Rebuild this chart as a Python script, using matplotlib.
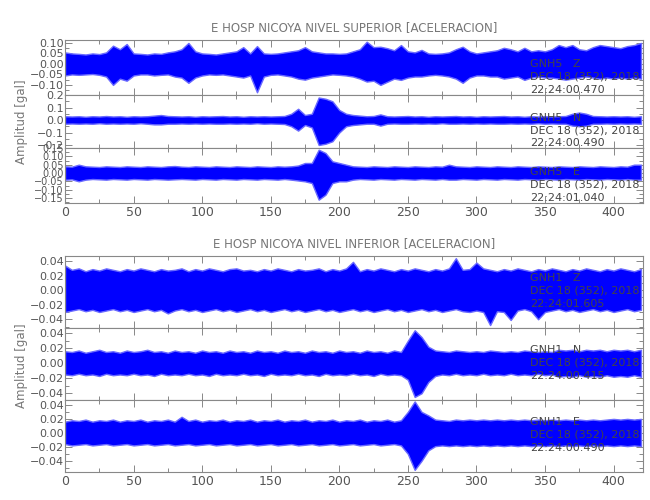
import numpy as np
import matplotlib
matplotlib.use("Agg")
import matplotlib.pyplot as plt
from matplotlib.ticker import MultipleLocator

# ---- data (envelopes every 5 s) ----
t = list(range(0, 425, 5))  # 0 .. 420 s

# upper group: GNH5 (Nivel superior)
gnh5_z_up = [.055, .050, .048, .045, .050, .047, .055, .087, .070, .095, .050, .048, .045, .050, .048, .055, .060, .070, .100, .060,
             .050, .048, .045, .050, .055, .060, .080, .050, .085, .050, .048, .050, .055, .060, .065, .080, .060, .055, .050, .050,
             .048, .050, .060, .070, .106, .080, .082, .075, .065, .090, .060, .055, .067, .050, .048, .050, .055, .070, .082, .060,
             .050, .055, .060, .065, .077, .070, .060, .077, .060, .065, .060, .070, .090, .080, .090, .070, .065, .080, .090, .085,
             .080, .075, .085, .090, .100]
gnh5_z_lo = [-.055, -.050, -.052, -.050, -.048, -.052, -.060, -.100, -.070, -.080, -.055, -.050, -.050, -.055, -.052, -.050, -.060, -.065, -.090, -.065,
             -.055, -.050, -.052, -.050, -.055, -.060, -.065, -.055, -.135, -.060, -.052, -.050, -.055, -.060, -.070, -.075, -.065, -.060, -.055, -.050,
             -.052, -.055, -.060, -.070, -.084, -.080, -.100, -.085, -.070, -.076, -.065, -.060, -.060, -.055, -.052, -.055, -.060, -.070, -.090, -.065,
             -.055, -.055, -.060, -.060, -.070, -.065, -.060, -.076, -.065, -.060, -.065, -.065, -.070, -.075, -.070, -.065, -.060, -.065, -.070, -.065,
             -.070, -.065, -.070, -.065, -.070]

gnh5_n_up = [.030, .028, .030, .026, .030, .028, .032, .028, .030, .026, .030, .028, .030, .035, .040, .032, .030, .028, .030, .026,
             .030, .028, .030, .032, .028, .030, .026, .030, .028, .030, .028, .030, .032, .050, .090, .040, .050, .180, .170, .150,
             .080, .050, .040, .035, .030, .032, .045, .030, .028, .030, .032, .028, .030, .026, .030, .028, .030, .032, .028, .030,
             .026, .030, .028, .030, .032, .028, .030, .026, .030, .028, .030, .028, .030, .032, .050, .060, .050, .032, .030, .028,
             .030, .028, .030, .026, .030]
gnh5_n_lo = [-.030, -.028, -.030, -.028, -.030, -.026, -.030, -.028, -.030, -.028, -.030, -.026, -.030, -.035, -.035, -.030, -.030, -.028, -.030, -.028,
             -.030, -.028, -.030, -.030, -.028, -.030, -.028, -.030, -.026, -.030, -.028, -.030, -.032, -.050, -.085, -.040, -.060, -.200, -.190, -.170,
             -.100, -.050, -.040, -.035, -.030, -.030, -.045, -.030, -.028, -.030, -.030, -.028, -.030, -.028, -.030, -.026, -.030, -.030, -.028, -.030,
             -.028, -.030, -.028, -.030, -.030, -.028, -.030, -.028, -.030, -.026, -.030, -.028, -.030, -.030, -.045, -.050, -.045, -.030, -.030, -.028,
             -.030, -.028, -.030, -.028, -.030]

gnh5_e_up = [.040, .038, .050, .040, .038, .036, .040, .038, .036, .040, .038, .036, .040, .038, .036, .040, .042, .038, .036, .040,
             .038, .036, .040, .038, .036, .040, .038, .036, .040, .038, .036, .040, .038, .040, .045, .060, .060, .140, .120, .070,
             .060, .050, .040, .038, .036, .040, .038, .036, .040, .038, .036, .040, .038, .036, .040, .038, .050, .040, .038, .036,
             .040, .038, .036, .040, .038, .036, .040, .038, .036, .040, .038, .036, .040, .038, .036, .040, .038, .036, .040, .038,
             .036, .040, .038, .050, .050]
gnh5_e_lo = [-.040, -.038, -.050, -.040, -.036, -.038, -.040, -.036, -.038, -.040, -.036, -.038, -.040, -.036, -.038, -.040, -.038, -.036, -.038, -.040,
             -.036, -.038, -.040, -.036, -.038, -.040, -.036, -.038, -.040, -.036, -.038, -.040, -.036, -.040, -.045, -.050, -.060, -.160, -.130, -.060,
             -.050, -.050, -.040, -.036, -.038, -.040, -.036, -.038, -.040, -.036, -.038, -.040, -.036, -.038, -.040, -.036, -.040, -.040, -.036, -.038,
             -.040, -.036, -.038, -.040, -.036, -.038, -.040, -.036, -.038, -.040, -.036, -.038, -.040, -.036, -.038, -.040, -.036, -.038, -.040, -.036,
             -.038, -.040, -.036, -.040, -.040]

# lower group: GNH1 (Nivel inferior)
gnh1_z_up = [.034, .028, .030, .026, .029, .027, .030, .028, .026, .029, .027, .030, .028, .026, .029, .027, .028, .030, .026, .029,
             .027, .030, .028, .026, .029, .030, .027, .028, .026, .029, .027, .030, .028, .026, .029, .027, .028, .030, .026, .029,
             .027, .030, .039, .026, .029, .027, .030, .028, .026, .029, .027, .030, .028, .026, .029, .027, .030, .044, .028, .029,
             .038, .030, .028, .026, .029, .027, .030, .028, .026, .029, .027, .030, .028, .026, .029, .027, .030, .028, .026, .029,
             .027, .030, .028, .026, .029]
gnh1_z_lo = [-.030, -.028, -.026, -.029, -.027, -.030, -.028, -.026, -.029, -.027, -.030, -.028, -.026, -.029, -.027, -.032, -.028, -.026, -.029, -.027,
             -.030, -.028, -.026, -.029, -.027, -.030, -.028, -.026, -.029, -.027, -.030, -.028, -.026, -.029, -.027, -.030, -.028, -.026, -.029, -.027,
             -.030, -.028, -.026, -.029, -.027, -.030, -.028, -.026, -.029, -.027, -.030, -.028, -.026, -.029, -.027, -.030, -.028, -.026, -.029, -.030,
             -.028, -.030, -.048, -.029, -.030, -.041, -.028, -.026, -.029, -.040, -.030, -.028, -.026, -.029, -.027, -.030, -.028, -.026, -.029, -.027,
             -.030, -.028, -.026, -.029, -.027]

gnh1_n_up = [.016, .015, .017, .014, .016, .018, .015, .016, .014, .017, .015, .016, .018, .015, .016, .014, .017, .015, .016, .014,
             .017, .015, .016, .014, .017, .015, .016, .014, .017, .015, .016, .014, .017, .015, .016, .014, .017, .015, .016, .014,
             .017, .015, .016, .014, .017, .015, .016, .014, .017, .015, .030, .044, .035, .022, .017, .016, .015, .017, .016, .015,
             .016, .015, .017, .016, .015, .016, .015, .017, .016, .015, .016, .015, .018, .017, .018, .016, .018, .017, .018, .016,
             .018, .017, .018, .016, .018]
gnh1_n_lo = [-.015, -.016, -.014, -.016, -.015, -.017, -.014, -.016, -.015, -.016, -.014, -.016, -.015, -.017, -.014, -.016, -.015, -.016, -.014, -.016,
             -.015, -.017, -.014, -.016, -.015, -.016, -.014, -.016, -.015, -.017, -.014, -.016, -.015, -.016, -.014, -.016, -.015, -.017, -.014, -.016,
             -.015, -.016, -.014, -.016, -.015, -.017, -.014, -.016, -.015, -.016, -.022, -.045, -.040, -.025, -.017, -.015, -.016, -.014, -.016, -.015,
             -.016, -.014, -.016, -.015, -.016, -.014, -.016, -.015, -.016, -.014, -.016, -.015, -.018, -.017, -.018, -.016, -.018, -.017, -.018, -.016,
             -.018, -.017, -.018, -.016, -.018]

gnh1_e_up = [.016, .018, .017, .019, .016, .018, .017, .019, .016, .018, .017, .019, .016, .018, .017, .019, .016, .023, .017, .019,
             .016, .018, .017, .019, .016, .018, .017, .019, .016, .018, .017, .019, .016, .018, .017, .019, .016, .018, .017, .019,
             .016, .018, .017, .019, .016, .018, .017, .019, .016, .018, .030, .045, .030, .025, .019, .018, .017, .019, .018, .019,
             .018, .019, .018, .019, .018, .019, .018, .019, .018, .019, .018, .019, .018, .019, .018, .019, .018, .019, .018, .019,
             .020, .019, .020, .019, .020]
gnh1_e_lo = [-.016, -.018, -.017, -.016, -.018, -.017, -.016, -.018, -.017, -.016, -.018, -.017, -.016, -.018, -.017, -.016, -.018, -.017, -.016, -.018,
             -.017, -.016, -.018, -.017, -.016, -.018, -.017, -.016, -.018, -.017, -.016, -.018, -.017, -.016, -.018, -.017, -.016, -.018, -.017, -.016,
             -.018, -.017, -.016, -.018, -.017, -.016, -.018, -.017, -.016, -.018, -.030, -.053, -.040, -.025, -.019, -.018, -.019, -.018, -.019, -.018,
             -.019, -.018, -.019, -.018, -.019, -.018, -.019, -.018, -.019, -.018, -.019, -.018, -.019, -.018, -.019, -.018, -.019, -.018, -.019, -.018,
             -.019, -.018, -.019, -.018, -.019]

station_labels = ["GNH5   Z", "GNH5   N", "GNH5   E", "GNH1   Z", "GNH1   N", "GNH1   E"]
date_label = "DEC 18 (352), 2018"
start_times = ["22:24:00.470", "22:24:00.490", "22:24:01.040", "22:24:01.605", "22:24:00.415", "22:24:00.490"]
titles = ["E HOSP NICOYA NIVEL SUPERIOR [ACELERACION]", "E HOSP NICOYA NIVEL INFERIOR [ACELERACION]"]
ylabel = "Amplitud [gal]"
x_ticks = [0, 50, 100, 150, 200, 250, 300, 350, 400]

traces = [(gnh5_z_up, gnh5_z_lo), (gnh5_n_up, gnh5_n_lo), (gnh5_e_up, gnh5_e_lo),
          (gnh1_z_up, gnh1_z_lo), (gnh1_n_up, gnh1_n_lo), (gnh1_e_up, gnh1_e_lo)]
ylims = [(-0.148, 0.114), (-0.224, 0.20), (-0.18, 0.15),
         (-0.052, 0.047), (-0.049, 0.047), (-0.056, 0.047)]
yticks = [[-0.10, -0.05, 0.0, 0.05, 0.10], [-0.2, -0.1, 0.0, 0.1, 0.2],
          [-0.15, -0.10, -0.05, 0.0, 0.05, 0.10, 0.15],
          [-0.04, -0.02, 0.0, 0.02, 0.04], [-0.04, -0.02, 0.0, 0.02, 0.04], [-0.04, -0.02, 0.0, 0.02, 0.04]]
yfmt = ["{:.2f}", "{:.1f}", "{:.2f}", "{:.2f}", "{:.2f}", "{:.2f}"]
ysize = [8, 8, 7, 8, 8, 8]

# ---- layout (pixel boxes in a 650x500 figure) ----
W, H = 650, 500
x0, x1 = 65, 643
boxes = [(40, 95), (95, 148), (148, 203), (256, 328), (328, 400), (400, 472)]

fig = plt.figure(figsize=(6.5, 5.0), dpi=100)
fig.patch.set_facecolor("white")
txt_col = "#555555"
spine_col = "#888888"

for i, (ytop, ybot) in enumerate(boxes):
    ax = fig.add_axes([x0 / W, 1 - ybot / H, (x1 - x0) / W, (ybot - ytop) / H])
    up, lo = traces[i]
    ax.fill_between(t, lo, up, facecolor="#0000ff", edgecolor="#6a6aff", linewidth=1.0, zorder=2)
    ax.set_xlim(0, 421.5)
    ax.set_ylim(*ylims[i])
    ax.set_yticks(yticks[i])
    ax.set_yticklabels([yfmt[i].format(v).replace("-", "\u2212") for v in yticks[i]])
    step = yticks[i][1] - yticks[i][0]
    ax.yaxis.set_minor_locator(MultipleLocator(step / 2))
    ax.set_xticks(x_ticks)
    ax.xaxis.set_minor_locator(MultipleLocator(25))
    ax.tick_params(axis="both", which="both", direction="in", top=True, right=True,
                   colors=spine_col, labelcolor=txt_col, width=0.7)
    ax.tick_params(axis="y", labelsize=ysize[i], pad=1)
    ax.tick_params(axis="both", which="major", length=5)
    ax.tick_params(axis="both", which="minor", length=3)
    for s in ax.spines.values():
        s.set_color(spine_col)
        s.set_linewidth(0.8)
    if i in (2, 5):
        ax.tick_params(axis="x", labelbottom=True, labelsize=9, pad=2)
    else:
        ax.tick_params(axis="x", labelbottom=False)
    # station annotation
    ax.text(0.8045, 0.57 if i < 3 else 0.70, station_labels[i], transform=ax.transAxes,
            fontsize=8, color="#444444", va="center", ha="left", zorder=5)
    ax.text(0.8045, 0.33 if i < 3 else 0.52, date_label, transform=ax.transAxes,
            fontsize=8, color="#444444", va="center", ha="left", zorder=5)
    ax.text(0.8045, 0.09 if i < 3 else 0.34, start_times[i], transform=ax.transAxes,
            fontsize=8, color="#444444", va="center", ha="left", zorder=5)

tfont = ["Liberation Sans Narrow", "DejaVu Sans"]
fig.text((x0 + x1) / 2 / W, 1 - 28 / H, titles[0], ha="center", va="center",
         fontsize=8.5, color="#777777", family=tfont)
fig.text((x0 + x1) / 2 / W, 1 - 244 / H, titles[1], ha="center", va="center",
         fontsize=8.5, color="#777777", family=tfont)
fig.text(22 / W, 1 - 122 / H, ylabel, rotation=90, ha="center", va="center",
         fontsize=8.5, color="#777777")
fig.text(22 / W, 1 - 366 / H, ylabel, rotation=90, ha="center", va="center",
         fontsize=8.5, color="#777777")

fig.savefig("out.png", dpi=100, facecolor="white")
